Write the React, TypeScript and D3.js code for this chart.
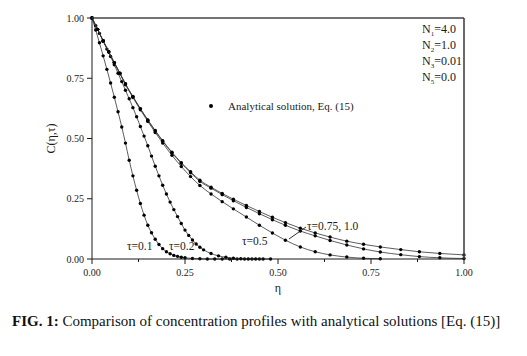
import React from "react";
import * as d3 from "d3";

// ---- data ----
const xMajorTicks = [0, 0.25, 0.5, 0.75, 1.0];
const xMinorTicks = [0.125, 0.375, 0.625, 0.875];
const yMajorTicks = [0, 0.25, 0.5, 0.75, 1.0];

const eta01 = [0, 0.01, 0.02, 0.03, 0.04, 0.05, 0.06, 0.07, 0.08, 0.09, 0.1, 0.11, 0.12, 0.13, 0.14, 0.15, 0.16, 0.17, 0.18, 0.19, 0.2, 0.21, 0.22, 0.23, 0.24, 0.25, 0.27, 0.29, 0.31, 0.33, 0.35, 0.37, 0.39, 0.41, 0.43, 0.45];
const c01 = [1.0, 0.95, 0.897, 0.843, 0.787, 0.73, 0.671, 0.611, 0.548, 0.481, 0.41, 0.345, 0.285, 0.23, 0.182, 0.14, 0.109, 0.082, 0.06, 0.043, 0.03, 0.022, 0.015, 0.011, 0.007, 0.005, 0.002, 0.001, 0, 0, 0, 0, 0, 0, 0, 0];

const eta02 = [0, 0.01, 0.02, 0.03, 0.04, 0.05, 0.06, 0.07, 0.08, 0.09, 0.1, 0.11, 0.12, 0.13, 0.14, 0.15, 0.16, 0.17, 0.18, 0.19, 0.2, 0.21, 0.22, 0.23, 0.24, 0.25, 0.26, 0.27, 0.28, 0.29, 0.3, 0.32, 0.34, 0.36, 0.38, 0.4, 0.42, 0.44, 0.46, 0.48];
const c02 = [1.0, 0.968, 0.936, 0.903, 0.871, 0.84, 0.806, 0.771, 0.736, 0.7, 0.665, 0.628, 0.59, 0.55, 0.51, 0.47, 0.427, 0.385, 0.345, 0.306, 0.27, 0.236, 0.205, 0.176, 0.147, 0.12, 0.098, 0.079, 0.062, 0.049, 0.038, 0.023, 0.013, 0.007, 0.003, 0.001, 0, 0, 0, 0];

const etaG = [0, 0.015, 0.03, 0.045, 0.06, 0.075, 0.09, 0.11, 0.13, 0.15, 0.17, 0.19, 0.215, 0.24, 0.265, 0.29, 0.32, 0.35, 0.38, 0.415, 0.45, 0.485, 0.52, 0.56, 0.6, 0.64, 0.685, 0.73, 0.775, 0.83, 0.88, 0.935, 1.0];
const c10 = [1.0, 0.953, 0.906, 0.86, 0.815, 0.771, 0.727, 0.674, 0.624, 0.577, 0.533, 0.491, 0.443, 0.4, 0.362, 0.327, 0.298, 0.272, 0.248, 0.222, 0.197, 0.173, 0.151, 0.128, 0.108, 0.091, 0.074, 0.061, 0.05, 0.039, 0.03, 0.023, 0.017];
const c075 = [1.0, 0.953, 0.906, 0.86, 0.815, 0.771, 0.726, 0.673, 0.623, 0.576, 0.531, 0.489, 0.44, 0.397, 0.358, 0.322, 0.294, 0.267, 0.242, 0.214, 0.188, 0.163, 0.14, 0.116, 0.096, 0.077, 0.058, 0.042, 0.029, 0.018, 0.01, 0.005, 0.002];

const eta05 = [0, 0.015, 0.03, 0.045, 0.06, 0.075, 0.09, 0.11, 0.13, 0.15, 0.17, 0.19, 0.215, 0.24, 0.265, 0.29, 0.32, 0.35, 0.38, 0.415, 0.45, 0.485, 0.52, 0.56, 0.6, 0.64, 0.685, 0.73, 0.775];
const c05 = [1.0, 0.953, 0.905, 0.859, 0.813, 0.769, 0.723, 0.67, 0.619, 0.571, 0.525, 0.481, 0.43, 0.384, 0.342, 0.305, 0.27, 0.238, 0.208, 0.174, 0.14, 0.108, 0.078, 0.05, 0.03, 0.017, 0.008, 0.003, 0.001];

const seriesList = [
  { name: "τ=0.1", eta: eta01, c: c01 },
  { name: "τ=0.2", eta: eta02, c: c02 },
  { name: "τ=0.5", eta: eta05, c: c05 },
  { name: "τ=0.75", eta: etaG, c: c075 },
  { name: "τ=1.0", eta: etaG, c: c10 },
];

const paramLabels = [
  { sub: "1", val: "=4.0" },
  { sub: "2", val: "=1.0" },
  { sub: "3", val: "=0.01" },
  { sub: "5", val: "=0.0" },
];

const FONT = "Liberation Serif, Times New Roman, serif";
const tx: React.CSSProperties = { fontFamily: FONT };

export default function App() {
  const x = d3.scaleLinear().domain([0, 1]).range([92, 464]);
  const y = d3.scaleLinear().domain([0, 1]).range([259, 18]);
  const line = d3
    .line<[number, number]>()
    .x((d) => x(d[0]))
    .y((d) => y(d[1]))
    .curve(d3.curveMonotoneX);

  const ink = "#1a1a1a";

  return (
    <svg
      width={527}
      height={356}
      style={{ position: "absolute", left: 0, top: 0, background: "#fff", fontFamily: FONT }}
    >
      <rect x={0} y={0} width={527} height={356} fill="#fff" />
      {/* curves */}
      {seriesList.map((s) => {
        const pts: [number, number][] = s.eta.map((e, i) => [e, s.c[i]]);
        return (
          <g key={s.name}>
            <path d={line(pts) || ""} fill="none" stroke="#333" strokeWidth={0.8} />
            {pts.map((p, i) => (
              <circle key={i} cx={x(p[0])} cy={y(p[1])} r={1.7} fill="#000" />
            ))}
          </g>
        );
      })}

      {/* frame */}
      <line x1={x(0)} x2={x(1)} y1={y(1)} y2={y(1)} stroke="#444" strokeWidth={1.3} />
      <line x1={x(1)} x2={x(1)} y1={y(1)} y2={y(0)} stroke="#444" strokeWidth={1.6} />
      <line x1={x(0)} x2={x(0)} y1={y(1)} y2={y(0)} stroke={ink} strokeWidth={1} />
      <line x1={x(0)} x2={x(1)} y1={y(0)} y2={y(0)} stroke={ink} strokeWidth={1.2} />

      {/* x ticks */}
      {xMajorTicks.map((t) => (
        <g key={"xm" + t}>
          <line x1={x(t)} x2={x(t)} y1={y(0)} y2={y(0) + 5} stroke={ink} strokeWidth={1} />
          <text x={x(t)} y={y(0) + 17} fontSize={10} textAnchor="middle" fill={ink} style={tx}>
            {t.toFixed(2)}
          </text>
        </g>
      ))}
      {xMinorTicks.map((t) => (
        <line key={"xn" + t} x1={x(t)} x2={x(t)} y1={y(0)} y2={y(0) + 3} stroke={ink} strokeWidth={1} />
      ))}
      {/* y ticks */}
      {yMajorTicks.map((t) => (
        <g key={"ym" + t}>
          <line x1={x(0) - 5} x2={x(0)} y1={y(t)} y2={y(t)} stroke={ink} strokeWidth={1} />
          <text x={x(0) - 8} y={y(t) + 3.5} fontSize={10} textAnchor="end" fill={ink} style={tx}>
            {t.toFixed(2)}
          </text>
        </g>
      ))}

      {/* axis titles */}
      <text x={278} y={292} fontSize={12} textAnchor="middle" fill={ink} style={tx}>
        η
      </text>
      <text
        transform={`translate(55,${y(0.5)}) rotate(-90)`}
        fontSize={12}
        textAnchor="middle"
        fill={ink}
        style={tx}
      >
        C(η,τ)
      </text>

      {/* parameters */}
      {paramLabels.map((p, i) => (
        <text key={p.sub} x={422} y={33 + i * 16} fontSize={12} fill={ink} style={tx}>
          N
          <tspan fontSize={7} dy={3}>
            {p.sub}
          </tspan>
          <tspan dy={-3}>{p.val}</tspan>
        </text>
      ))}

      {/* legend */}
      <circle cx={211} cy={106} r={2} fill="#000" />
      <text x={228} y={110} fontSize={11} fill={ink} style={tx}>
        Analytical solution, Eq. (15)
      </text>

      {/* curve labels */}
      <text x={127} y={250} fontSize={11.5} fill={ink} style={tx}>τ=0.1</text>
      <text x={169} y={250} fontSize={11.5} fill={ink} style={tx}>τ=0.2</text>
      <text x={242} y={245} fontSize={11.5} fill={ink} style={tx}>τ=0.5</text>
      <text x={307} y={230} fontSize={11.5} fill={ink} style={tx}>τ=0.75, 1.0</text>
      <line x1={289} y1={239} x2={306} y2={227} stroke={ink} strokeWidth={0.9} />

      {/* caption */}
      <text x={12} y={326} fontSize={15} fill="#111" style={tx}>
        <tspan fontWeight="bold">FIG. 1:</tspan>
        <tspan> Comparison of concentration profiles with analytical solutions [Eq. (15)]</tspan>
      </text>
    </svg>
  );
}
